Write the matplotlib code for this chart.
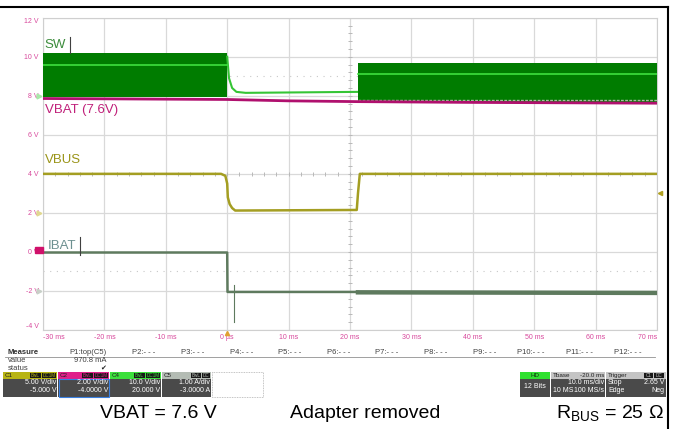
import numpy as np
import matplotlib.pyplot as plt
from matplotlib.patches import Rectangle

plt.rcParams['font.family'] = ['Liberation Sans', 'DejaVu Sans']
plt.rcParams['mathtext.fontset'] = 'custom'
plt.rcParams['mathtext.rm'] = 'Liberation Sans'
plt.rcParams['mathtext.it'] = 'Liberation Sans'

W, H = 673, 429

# axes ticks
x_ticks = [-30, -20, -10, 0, 10, 20, 30, 40, 50, 60, 70]
x_labels = ['-30 ms', '-20 ms', '-10 ms', '0 µs', '10 ms', '20 ms', '30 ms',
            '40 ms', '50 ms', '60 ms', '70 ms']
y_ticks = [-4, -2, 0, 2, 4, 6, 8, 10, 12]
y_labels = ['-4 V', '-2 V', '0 V', '2 V', '4 V', '6 V', '8 V', '10 V', '12 V']

# SW node: switching band before removal and after re-attach
sw_on1_t = [-30, 0.0]
sw_on1_top = [10.2, 10.2]
sw_on1_bot = [7.95, 7.95]
sw_on1_mid = [9.6, 9.6]
sw_off_t = [0.0, 0.3, 0.8, 1.5, 3.0, 21.3]
sw_off_v = [10.0, 8.9, 8.4, 8.2, 8.15, 8.2]
sw_on2_t = [21.3, 70]
sw_on2_top = [9.7, 9.7]
sw_on2_bot = [7.7, 7.7]
sw_on2_mid = [9.1, 9.1]

# VBAT
vbat_t = [-30, 0, 10, 21.3, 40, 70]
vbat_v = [7.86, 7.81, 7.74, 7.7, 7.66, 7.62]

# VBUS
vbus_t = [-30, -1.0, -0.3, 0.0, 0.1, 0.4, 0.8, 1.3, 21.1, 21.3, 21.6, 70]
vbus_v = [4.0, 4.0, 3.9, 3.5, 2.8, 2.45, 2.25, 2.12, 2.15, 3.0, 4.0, 4.0]

# IBAT (displayed on grid)
ibat_t = [-30, 0.0, 0.05, 21.3]
ibat_v = [-0.03, -0.03, -2.05, -2.05]
ibat2_t = [21.3, 70]
ibat2_v = [-2.07, -2.1]
spike_t = 1.1
spike_v = [-1.7, -3.6]

fig = plt.figure(figsize=(W / 100, H / 100), dpi=100)
ax = fig.add_axes([43 / W, 1 - 330 / H, (657 - 43) / W, (330 - 17.7) / H])
ax.set_xlim(-30, 70)
ax.set_ylim(-4, 12)

grid_c = '#d9d9d9'
ax.set_xticks(x_ticks)
ax.set_yticks(y_ticks)
ax.grid(True, color=grid_c, lw=0.9)
ax.set_axisbelow(True)
for s in ax.spines.values():
    s.set_color('#cfcfcf')
ax.tick_params(length=0, labelsize=5, colors='#d8489c', pad=3)
ax.set_xticklabels(x_labels)
ax.set_yticklabels(y_labels)
xl = ax.get_xticklabels()
xl[0].set_ha('left')
xl[-1].set_ha('right')
yl = ax.get_yticklabels()
yl[0].set_va('bottom')
yl[-1].set_va('top')

# dotted helper lines and center cross ticks
ax.axhline(9, color='#c8c8c8', lw=0.8, ls=(0, (1, 5)))
ax.axhline(-1, color='#c8c8c8', lw=0.8, ls=(0, (1, 5)))
ax.plot(np.full(41, 20.0), np.arange(-4, 12.01, 0.4), '_', color='#b8b8b8', ms=3, mew=0.7)
ax.plot(np.arange(-30, 70.01, 2), np.full(51, 4.0), '|', color='#b8b8b8', ms=3, mew=0.7)

# SW
ax.fill_between(sw_on1_t, sw_on1_bot, sw_on1_top, color='#007c00', lw=0, zorder=3)
ax.plot(sw_on1_t, sw_on1_mid, color='#3ee03e', lw=1.2, zorder=4)
ax.plot(sw_off_t, sw_off_v, color='#35c535', lw=1.5, zorder=3)
ax.fill_between(sw_on2_t, sw_on2_bot, sw_on2_top, color='#007c00', lw=0, zorder=3)
ax.plot(sw_on2_t, sw_on2_mid, color='#3ee03e', lw=1.2, zorder=4)
ax.plot(sw_on2_t, [sw_on2_bot[0] + 0.1] * 2, color='#a8b8a0', lw=1.0, ls=(0, (2, 1)), zorder=4)

# VBAT
ax.plot(vbat_t, vbat_v, color='#b0106e', lw=2.0, zorder=5)

# VBUS
ax.plot(vbus_t, vbus_v, color='#a49e22', lw=1.8, zorder=5)

# IBAT
ax.plot(ibat_t, ibat_v, color='#5e7a5e', lw=1.8, zorder=5)
ax.plot(ibat2_t, ibat2_v, color='#5e7a5e', lw=3.2, zorder=5)
ax.plot([spike_t, spike_t], spike_v, color='#5e7a5e', lw=0.8, zorder=5)

# trace labels
ax.text(-29.7, 10.6, 'SW', color='#3c8c3c', fontsize=9.5, va='center', zorder=6)
ax.plot([-25.6, -25.6], [10.2, 11.0], color='#404040', lw=0.8, zorder=6)
ax.text(-29.7, 7.25, 'VBAT (7.6V)', color='#c0207a', fontsize=9.5, va='center', zorder=6)
ax.text(-29.7, 4.7, 'VBUS', color='#9a9418', fontsize=9.5, va='center', zorder=6)
ax.text(-29.2, 0.3, 'IBAT', color='#6c9090', fontsize=9.5, va='center', zorder=6)
ax.plot([-24.0, -24.0], [-0.15, 0.75], color='#404040', lw=0.8, zorder=6)

# channel ground markers left of the grid and trigger markers
ax.plot([-30.6], [8.0], marker='>', ms=3.5, color='#a8e8a8', clip_on=False, zorder=6)
ax.plot([-30.6], [2.0], marker='>', ms=3.5, color='#e0d890', clip_on=False, zorder=6)
ax.plot([-30.6], [-2.0], marker='>', ms=3.5, color='#c8d0c8', clip_on=False, zorder=6)
ax.plot([70.5], [3.0], marker='<', ms=3, color='#b0a020', clip_on=False, zorder=6)
ax.plot([0], [-4.15], marker='^', ms=3, color='#e0a030', clip_on=False, zorder=6)

# overlay for the scope UI
ov = fig.add_axes([0, 0, 1, 1])
ov.set_xlim(0, W)
ov.set_ylim(H, 0)
ov.axis('off')
ov.patch.set_alpha(0)

ov.plot([0, 668], [7, 7], color='black', lw=1.5)
ov.plot([668, 668], [7, H], color='black', lw=1.5)
ov.add_patch(Rectangle((35, 247), 8, 6, color='#d0106a'))

# measure table
meas_labels = ['P1:top(C5)', 'P2:- - -', 'P3:- - -', 'P4:- - -', 'P5:- - -', 'P6:- - -',
               'P7:- - -', 'P8:- - -', 'P9:- - -', 'P10:- - -', 'P11:- - -', 'P12:- - -']
ov.text(8, 352, 'Measure', fontsize=5.5, fontweight='bold', va='center', color='#303030')
for i, lab in enumerate(meas_labels):
    ov.text(107 + 48.6 * i, 352, lab, fontsize=5.5, va='center', ha='right', color='#404040')
ov.plot([5, 655], [356.5, 356.5], color='#909090', lw=0.6)
ov.text(8, 361, 'value', fontsize=5.5, va='center', color='#404040')
ov.text(107, 361, '970.8 mA', fontsize=5.5, va='center', ha='right', color='#404040')
ov.text(8, 368, 'status', fontsize=5.5, va='center', color='#404040')
ov.text(103, 367.5, '✔', fontsize=5, va='center', ha='center', color='#202020',
        family='DejaVu Sans')

# channel boxes
chans = ['C1', 'C2', 'C4', 'C5']
chan_cols = ['#b8b414', '#e0208a', '#3ce03c', '#b4bcb4']
chan_scale = ['5.00 V/div', '2.00 V/div', '10.0 V/div', '1.00 A/div']
chan_off = ['-5.000 V', '-4.0000 V', '20.000 V', '-3.0000 A']
chan_tags = [['BwL', 'DC1M'], ['BwL', 'DC1M'], ['BwL', 'DC1M'], ['BwL', 'DC']]
bx = [3, 58, 110, 162, 212]
for i, c in enumerate(chans):
    x0, x1 = bx[i], bx[i + 1] - 1
    ov.add_patch(Rectangle((x0, 372), x1 - x0, 6.5, color=chan_cols[i], lw=0))
    ov.add_patch(Rectangle((x0, 378.5), x1 - x0, 18, color='#4a4a4a', lw=0))
    ov.text(x0 + 2, 375.2, c, fontsize=4.5, va='center', color='#202020')
    tx = x1 - 1
    for tag in reversed(chan_tags[i]):
        w = 3.3 * len(tag) + 1
        ov.add_patch(Rectangle((tx - w, 372.8), w, 5, color='#181818', lw=0))
        ov.text(tx - w / 2, 375.3, tag, fontsize=3.3, va='center', ha='center',
                color=chan_cols[i])
        tx -= w + 1
    ov.text(x1 - 1, 383, chan_scale[i], fontsize=5, va='center', ha='right', color='white')
    ov.text(x1 - 1, 391, chan_off[i], fontsize=5, va='center', ha='right', color='white')
ov.add_patch(Rectangle((59, 378.5), 50, 18, fill=False, ec='#3a80e0', lw=0.8))
ov.add_patch(Rectangle((212, 372), 51, 24.5, fill=False, ec='#b0b0b0', lw=0.6,
                       ls=(0, (1, 1))))

# timebase / trigger boxes
ov.add_patch(Rectangle((520, 372), 30, 6.5, color='#30e030', lw=0))
ov.add_patch(Rectangle((520, 378.5), 30, 18, color='#4a4a4a', lw=0))
ov.text(535, 375.2, 'HD', fontsize=4.5, va='center', ha='center', color='#103010')
ov.text(535, 387, '12 Bits', fontsize=5, va='center', ha='center', color='white')
ov.add_patch(Rectangle((551, 372), 54, 6.5, color='#c4c4c4', lw=0))
ov.add_patch(Rectangle((551, 378.5), 54, 18, color='#4a4a4a', lw=0))
ov.text(553, 375.2, 'Tbase', fontsize=4.5, va='center', color='#202020')
ov.text(604, 375.2, '-20.0 ms', fontsize=4.5, va='center', ha='right', color='#202020')
ov.text(604, 383, '10.0 ms/div', fontsize=5, va='center', ha='right', color='white')
ov.text(553, 391, '10 MS', fontsize=5, va='center', color='white')
ov.text(604, 391, '100 MS/s', fontsize=5, va='center', ha='right', color='white')
ov.add_patch(Rectangle((606, 372), 60, 6.5, color='#c4c4c4', lw=0))
ov.add_patch(Rectangle((606, 378.5), 60, 18, color='#4a4a4a', lw=0))
ov.text(608, 375.2, 'Trigger', fontsize=4.5, va='center', color='#202020')
ov.add_patch(Rectangle((644, 372.8), 9, 5, color='#181818', lw=0))
ov.text(648.5, 375.3, 'C1', fontsize=3.3, va='center', ha='center', color='#c4c4c4')
ov.add_patch(Rectangle((654, 372.8), 10, 5, color='#181818', lw=0))
ov.text(659, 375.3, 'DC', fontsize=3.3, va='center', ha='center', color='#c4c4c4')
ov.text(608, 383, 'Stop', fontsize=5, va='center', color='white')
ov.text(664, 383, '2.65 V', fontsize=5, va='center', ha='right', color='white')
ov.text(608, 391, 'Edge', fontsize=5, va='center', color='white')
ov.text(664, 391, 'Neg', fontsize=5, va='center', ha='right', color='white')

# captions
ov.text(100, 413, 'VBAT = 7.6 V', fontsize=14, va='center', color='black')
ov.text(290, 413, 'Adapter removed', fontsize=14, va='center', color='black')
ov.text(664, 413, r'R$_{\mathrm{BUS}}$ = 25 Ω', fontsize=14, va='center', ha='right',
        color='black')

fig.savefig('out.png', dpi=100)
